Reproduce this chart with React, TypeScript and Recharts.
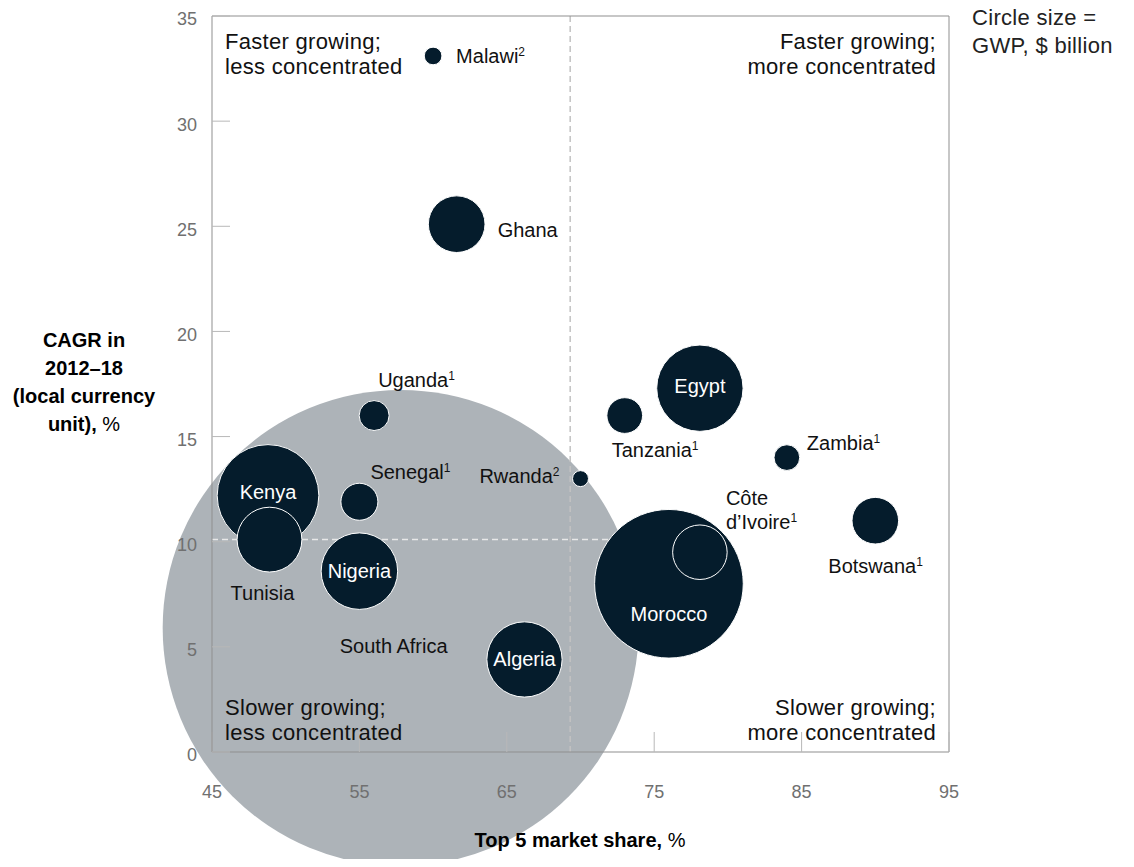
import { ReferenceLine, Scatter, ScatterChart, XAxis, YAxis, ZAxis } from "recharts"

// Insurance markets in Africa: concentration vs growth, bubble = GWP
const countries = [
  "South Africa",
  "Morocco",
  "Kenya",
  "Egypt",
  "Nigeria",
  "Algeria",
  "Tunisia",
  "Ghana",
  "Côte d’Ivoire",
  "Botswana",
  "Senegal",
  "Tanzania",
  "Uganda",
  "Zambia",
  "Malawi",
  "Rwanda",
]
const marketShare = [57.8, 76.0, 48.8, 78.1, 55.0, 66.2, 48.9, 61.6, 78.1, 90.0, 55.0, 73.0, 56.0, 84.0, 60.0, 70.0]
const cagr = [5.9, 8.0, 12.2, 17.3, 8.6, 4.4, 10.1, 25.1, 9.5, 11.0, 11.9, 16.0, 16.0, 14.0, 33.1, 13.0]
const gwp = [48, 4.68, 2.19, 1.58, 1.24, 1.2, 0.89, 0.68, 0.63, 0.46, 0.29, 0.27, 0.19, 0.14, 0.066, 0.054]
const notes = ["", "", "", "", "", "", "", "", "1", "1", "1", "1", "1", "1", "2", "2"]

const xTicks = [45, 55, 65, 75, 85, 95]
const yTicks = [0, 5, 10, 15, 20, 25, 30, 35]
const medianShare = 69.3
const medianGrowth = 10.1

const NAVY = "#051c2c"
const GREY = "#adb3b8"
const FONT = "'Liberation Sans', Arial, sans-serif"
const MAX_R = 238

// where each label sits, relative to its bubble centre
const labelPos: Record<string, { dx: number; dy: number; anchor: "start" | "middle" | "end"; inside?: boolean }> = {
  "South Africa": { dx: -7, dy: 18, anchor: "middle" },
  Morocco: { dx: 0, dy: 30, anchor: "middle", inside: true },
  Kenya: { dx: 0, dy: -3, anchor: "middle", inside: true },
  Egypt: { dx: 0, dy: -2, anchor: "middle", inside: true },
  Nigeria: { dx: 0, dy: 0, anchor: "middle", inside: true },
  Algeria: { dx: 0, dy: 0, anchor: "middle", inside: true },
  Tunisia: { dx: -7, dy: 53, anchor: "middle" },
  Ghana: { dx: 41, dy: 6, anchor: "start" },
  "Côte d’Ivoire": { dx: 26, dy: -54, anchor: "start" },
  Botswana: { dx: -47, dy: 45, anchor: "start" },
  Senegal: { dx: 11, dy: -30, anchor: "start" },
  Tanzania: { dx: -13, dy: 34, anchor: "start" },
  Uganda: { dx: 4, dy: -36, anchor: "start" },
  Zambia: { dx: 20, dy: -15, anchor: "start" },
  Malawi: { dx: 23, dy: 0, anchor: "start" },
  Rwanda: { dx: -21, dy: -3, anchor: "end" },
}

const data = countries.map((country, i) => ({
  country,
  share: marketShare[i],
  cagr: cagr[i],
  gwp: gwp[i],
  note: notes[i],
}))
const southAfrica = data.filter((d) => d.country === "South Africa")
const others = data.filter((d) => d.country !== "South Africa")

function Bubble(props: any) {
  const { cx, cy, payload } = props
  const r = props.width / 2
  const isSA = payload.country === "South Africa"
  const pos = labelPos[payload.country]
  const lines = payload.country === "Côte d’Ivoire" ? ["Côte", "d’Ivoire"] : [payload.country]
  const tx = cx + pos.dx
  return (
    <g>
      <circle cx={cx} cy={cy} r={r} fill={isSA ? GREY : NAVY} stroke={isSA ? "none" : "#fff"} strokeWidth={1} />
      <text
        x={tx}
        y={cy + pos.dy}
        textAnchor={pos.anchor}
        dominantBaseline="central"
        fontFamily={FONT}
        fontSize={20}
        fill={pos.inside ? "#fff" : "#111"}
      >
        {lines.map((line, j) => (
          <tspan key={j} x={tx} dy={j === 0 ? 0 : 24}>
            {line}
            {j === lines.length - 1 && payload.note ? (
              <tspan baselineShift="30%" fontSize={12}>
                {payload.note}
              </tspan>
            ) : null}
          </tspan>
        ))}
      </text>
    </g>
  )
}

function YTitle() {
  return (
    <text x={76} y={332} textAnchor="middle" dominantBaseline="central" fontFamily={FONT} fontSize={20} fontWeight={700} fill="#000">
      <tspan x={76} dy={0}>CAGR in</tspan>
      <tspan x={76} dy={28}>2012–18</tspan>
      <tspan x={76} dy={28}>(local currency</tspan>
      <tspan x={76} dy={28}>
        unit), <tspan fontWeight={400}>%</tspan>
      </tspan>
    </text>
  )
}

function XTitle() {
  return (
    <text x={572} y={832} textAnchor="middle" dominantBaseline="central" fontFamily={FONT} fontSize={20} fontWeight={700} fill="#000">
      Top 5 market share, <tspan fontWeight={400}>%</tspan>
    </text>
  )
}

const quadStyle = {
  position: "absolute" as const,
  fontSize: 22,
  lineHeight: "25px",
  letterSpacing: "0.3px",
  color: "#111",
  whiteSpace: "nowrap" as const,
}

export default function App() {
  return (
    <div style={{ position: "relative", width: 1118, height: 851, fontFamily: FONT }}>
      <style>{`.recharts-surface{overflow:visible}`}</style>
      <ScatterChart width={1118} height={859} margin={{ top: 8, right: 177, bottom: 75, left: 144 }}>
        <ZAxis type="number" dataKey="gwp" domain={[0, 48]} range={[0, Math.PI * MAX_R * MAX_R]} />
        <Scatter data={southAfrica} shape={Bubble} isAnimationActive={false} zIndex={50} />
        <ReferenceLine x={medianShare} stroke="#c2c2c2" strokeWidth={1.5} strokeDasharray="6 4" zIndex={60} />
        <ReferenceLine
          segment={[
            { x: 45, y: medianGrowth },
            { x: 74, y: medianGrowth },
          ]}
          stroke="#e8e8e8"
          strokeWidth={1.5}
          strokeDasharray="6 4"
          zIndex={60}
        />
        <ReferenceLine y={35} stroke="#8f8f8f" zIndex={60} />
        <ReferenceLine x={95} stroke="#8f8f8f" zIndex={60} />
        <XAxis
          type="number"
          dataKey="share"
          domain={[45, 95]}
          ticks={xTicks}
          interval={0}
          height={40}
          tickSize={-20}
          tickMargin={53}
          axisLine={{ stroke: "#8f8f8f" }}
          tickLine={{ stroke: "#b8b8b8" }}
          tick={{ fill: "#707070", fontSize: 18, fontFamily: FONT }}
          label={<XTitle />}
        />
        <YAxis
          type="number"
          dataKey="cagr"
          domain={[0, 35]}
          ticks={yTicks}
          interval={0}
          width={60}
          tickSize={-18}
          tickMargin={33}
          axisLine={{ stroke: "#8f8f8f" }}
          tickLine={{ stroke: "#b8b8b8" }}
          tick={{ fill: "#707070", fontSize: 18, fontFamily: FONT, dy: 3 }}
          label={<YTitle />}
        />
        <Scatter data={others} shape={Bubble} isAnimationActive={false} />
      </ScatterChart>

      <div style={{ ...quadStyle, left: 217, top: 21 }}>
        Faster growing;
        <br />
        less concentrated
      </div>
      <div style={{ ...quadStyle, right: 190, top: 21, textAlign: "right" }}>
        Faster growing;
        <br />
        more concentrated
      </div>
      <div style={{ ...quadStyle, left: 217, top: 687 }}>
        Slower growing;
        <br />
        less concentrated
      </div>
      <div style={{ ...quadStyle, right: 190, top: 687, textAlign: "right" }}>
        Slower growing;
        <br />
        more concentrated
      </div>
      <div style={{ ...quadStyle, left: 964, top: -4, lineHeight: "28px", color: "#222" }}>
        Circle size =
        <br />
        GWP, $ billion
      </div>
    </div>
  )
}
